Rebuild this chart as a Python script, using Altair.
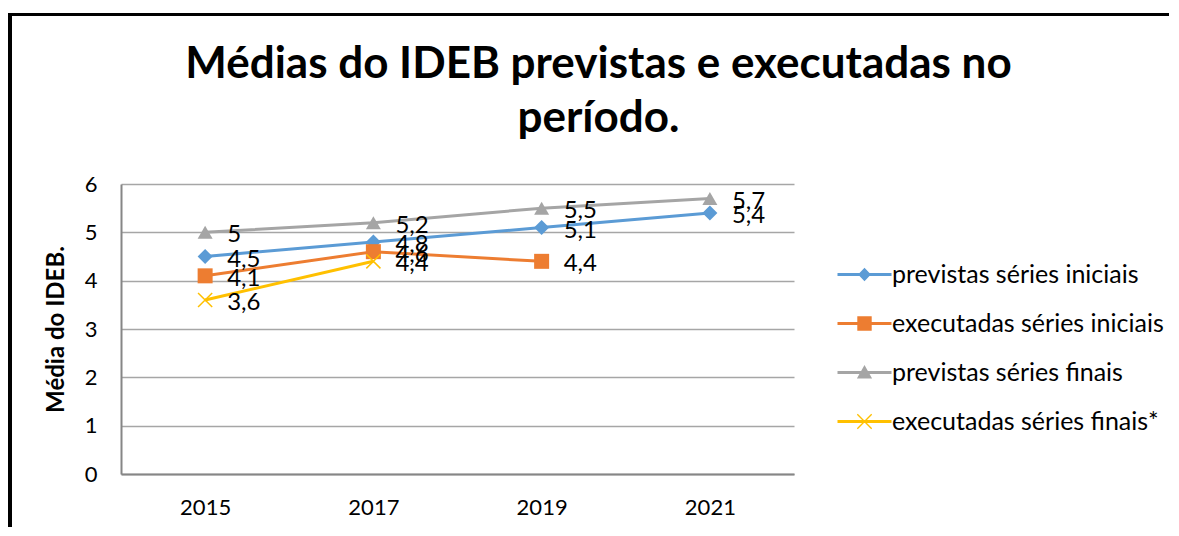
import altair as alt
import pandas as pd

# ---- data ----
years = ["2015", "2017", "2019", "2021"]
series_names = [
    "previstas séries iniciais",
    "executadas séries iniciais",
    "previstas séries finais",
    "executadas séries finais*",
]
prev_iniciais = [4.5, 4.8, 5.1, 5.4]
exec_iniciais = [4.1, 4.6, 4.4, None]
prev_finais = [5.0, 5.2, 5.5, 5.7]
exec_finais = [3.6, 4.4, None, None]
y_ticks = [0, 1, 2, 3, 4, 5, 6]

colors = ["#5B9BD5", "#ED7D31", "#A5A5A5", "#FFC000"]

rows = []
for order, (name, vals) in enumerate(zip(series_names, [prev_iniciais, exec_iniciais, prev_finais, exec_finais])):
    for yr, v in zip(years, vals):
        if v is not None:
            rows.append({"ano": yr, "serie": name, "valor": v, "ordem": order})
df = pd.DataFrame(rows)

FONT = "Lato"
W, H = 673, 290

# legend symbol paths (line + marker), unit = 8px
line_p = "M-3.375,-0.19H3.375V0.19H-3.375Z"
diamond_p = "M0,-0.85L0.8,0L0,0.85L-0.8,0Z"
square_p = "M-0.9,-0.9H0.9V0.9H-0.9Z"
tri_p = "M0,-0.95L0.95,0.75H-0.95Z"
t = 0.06
x_p = (f"M{-0.9+t},{-0.9-t}L{0.9+t},{0.9-t}L{0.9-t},{0.9+t}L{-0.9-t},{-0.9+t}Z"
       f"M{0.9-t},{-0.9-t}L{0.9+t},{-0.9+t}L{-0.9+t},{0.9+t}L{-0.9-t},{0.9-t}Z")
legend_shapes = [line_p + diamond_p, line_p + square_p, line_p + tri_p, line_p + x_p]

x_enc = alt.X("ano:N", sort=years,
              scale=alt.Scale(type="point", padding=0.5),
              axis=alt.Axis(title=None, labelAngle=0, tickSize=0, ticks=False,
                            labelPadding=23, grid=False,
                            domainColor="#868686", domainWidth=2))
y_enc = alt.Y("valor:Q",
              scale=alt.Scale(domain=[0, 6], nice=False, zero=True),
              axis=alt.Axis(values=y_ticks, tickSize=0, ticks=False, labelPadding=24,
                            grid=True, gridColor="#A6A6A6", gridWidth=1.3,
                            domainColor="#868686", domainWidth=2,
                            title="Média do IDEB.", titleFontWeight="bold",
                            titleFontSize=24, titleFont=FONT, titleColor="black",
                            titleX=-58, titleY=H / 2, titleBaseline="alphabetic",
                            titleAngle=270))

base = alt.Chart(df)

lines = base.mark_line(strokeWidth=3).encode(
    x=x_enc, y=y_enc,
    color=alt.Color("serie:N", scale=alt.Scale(domain=series_names, range=colors), legend=None),
    order="ordem:Q",
    detail="serie:N",
)

marker_shapes = ["diamond", "square", "triangle-up"]
point_layers = []
for name, col, shp in zip(series_names[:3], colors[:3], marker_shapes):
    point_layers.append(
        base.transform_filter(alt.datum.serie == name)
        .mark_point(filled=True, shape=shp, size=225, color=col, opacity=1)
        .encode(x=x_enc, y=y_enc)
    )
point_layers.append(
    base.transform_filter(alt.datum.serie == series_names[3])
    .mark_point(filled=False, shape="M-1,-1L1,1M1,-1L-1,1", size=200,
                color=colors[3], strokeWidth=1.5, opacity=1)
    .encode(x=x_enc, y=y_enc)
)

leg = alt.Legend(title=None, orient="none", legendX=731, legendY=78,
                 labelFont=FONT, labelFontSize=25, labelColor="black", labelLimit=0,
                 symbolSize=256, labelOffset=15, rowPadding=23, padding=0,
                 symbolStrokeWidth=0, symbolOpacity=1)

legend_layer = base.transform_filter("datum.valor < 0").mark_point(
    filled=True, size=256
).encode(
    x=x_enc, y=y_enc,
    color=alt.Color("serie:N", scale=alt.Scale(domain=series_names, range=colors), legend=leg),
    shape=alt.Shape("serie:N", scale=alt.Scale(domain=series_names, range=legend_shapes), legend=leg),
)

labels = base.transform_calculate(
    rotulo="replace(toString(datum.valor), '.', ',')"
).mark_text(align="left", baseline="middle", dx=22, dy=3,
            font=FONT, fontSize=24, color="black").encode(
    x=x_enc, y=y_enc, text="rotulo:N")

frame_data = alt.Data(values=[{"k": 1}])
frame_left = alt.Chart(frame_data).mark_rule(color="black", strokeWidth=4).encode(
    x=alt.value(-111), y=alt.value(-169.5), y2=alt.value(360))
frame_top = alt.Chart(frame_data).mark_rule(color="black", strokeWidth=3).encode(
    x=alt.value(-113), x2=alt.value(1060), y=alt.value(-169.5))

chart = alt.layer(
    lines, *point_layers, legend_layer, labels, frame_left, frame_top
).resolve_scale(
    color="independent", shape="independent"
).properties(
    width=W, height=H,
    autosize=alt.AutoSizeParams(type="none"),
    padding={"left": 113, "top": 176, "right": 375, "bottom": 53},
    title=alt.TitleParams(
        text=["Médias do IDEB previstas e executadas no", "período."],
        font=FONT, fontSize=44, fontWeight="bold", color="black",
        anchor="middle", dx=141, offset=-128, lineHeight=54, baseline="top",
    ),
).configure_view(strokeWidth=0).configure_axis(
    labelFont=FONT, labelFontSize=22, labelColor="black"
)

chart.save("out.html", embed_options={"renderer": "svg", "actions": False})
